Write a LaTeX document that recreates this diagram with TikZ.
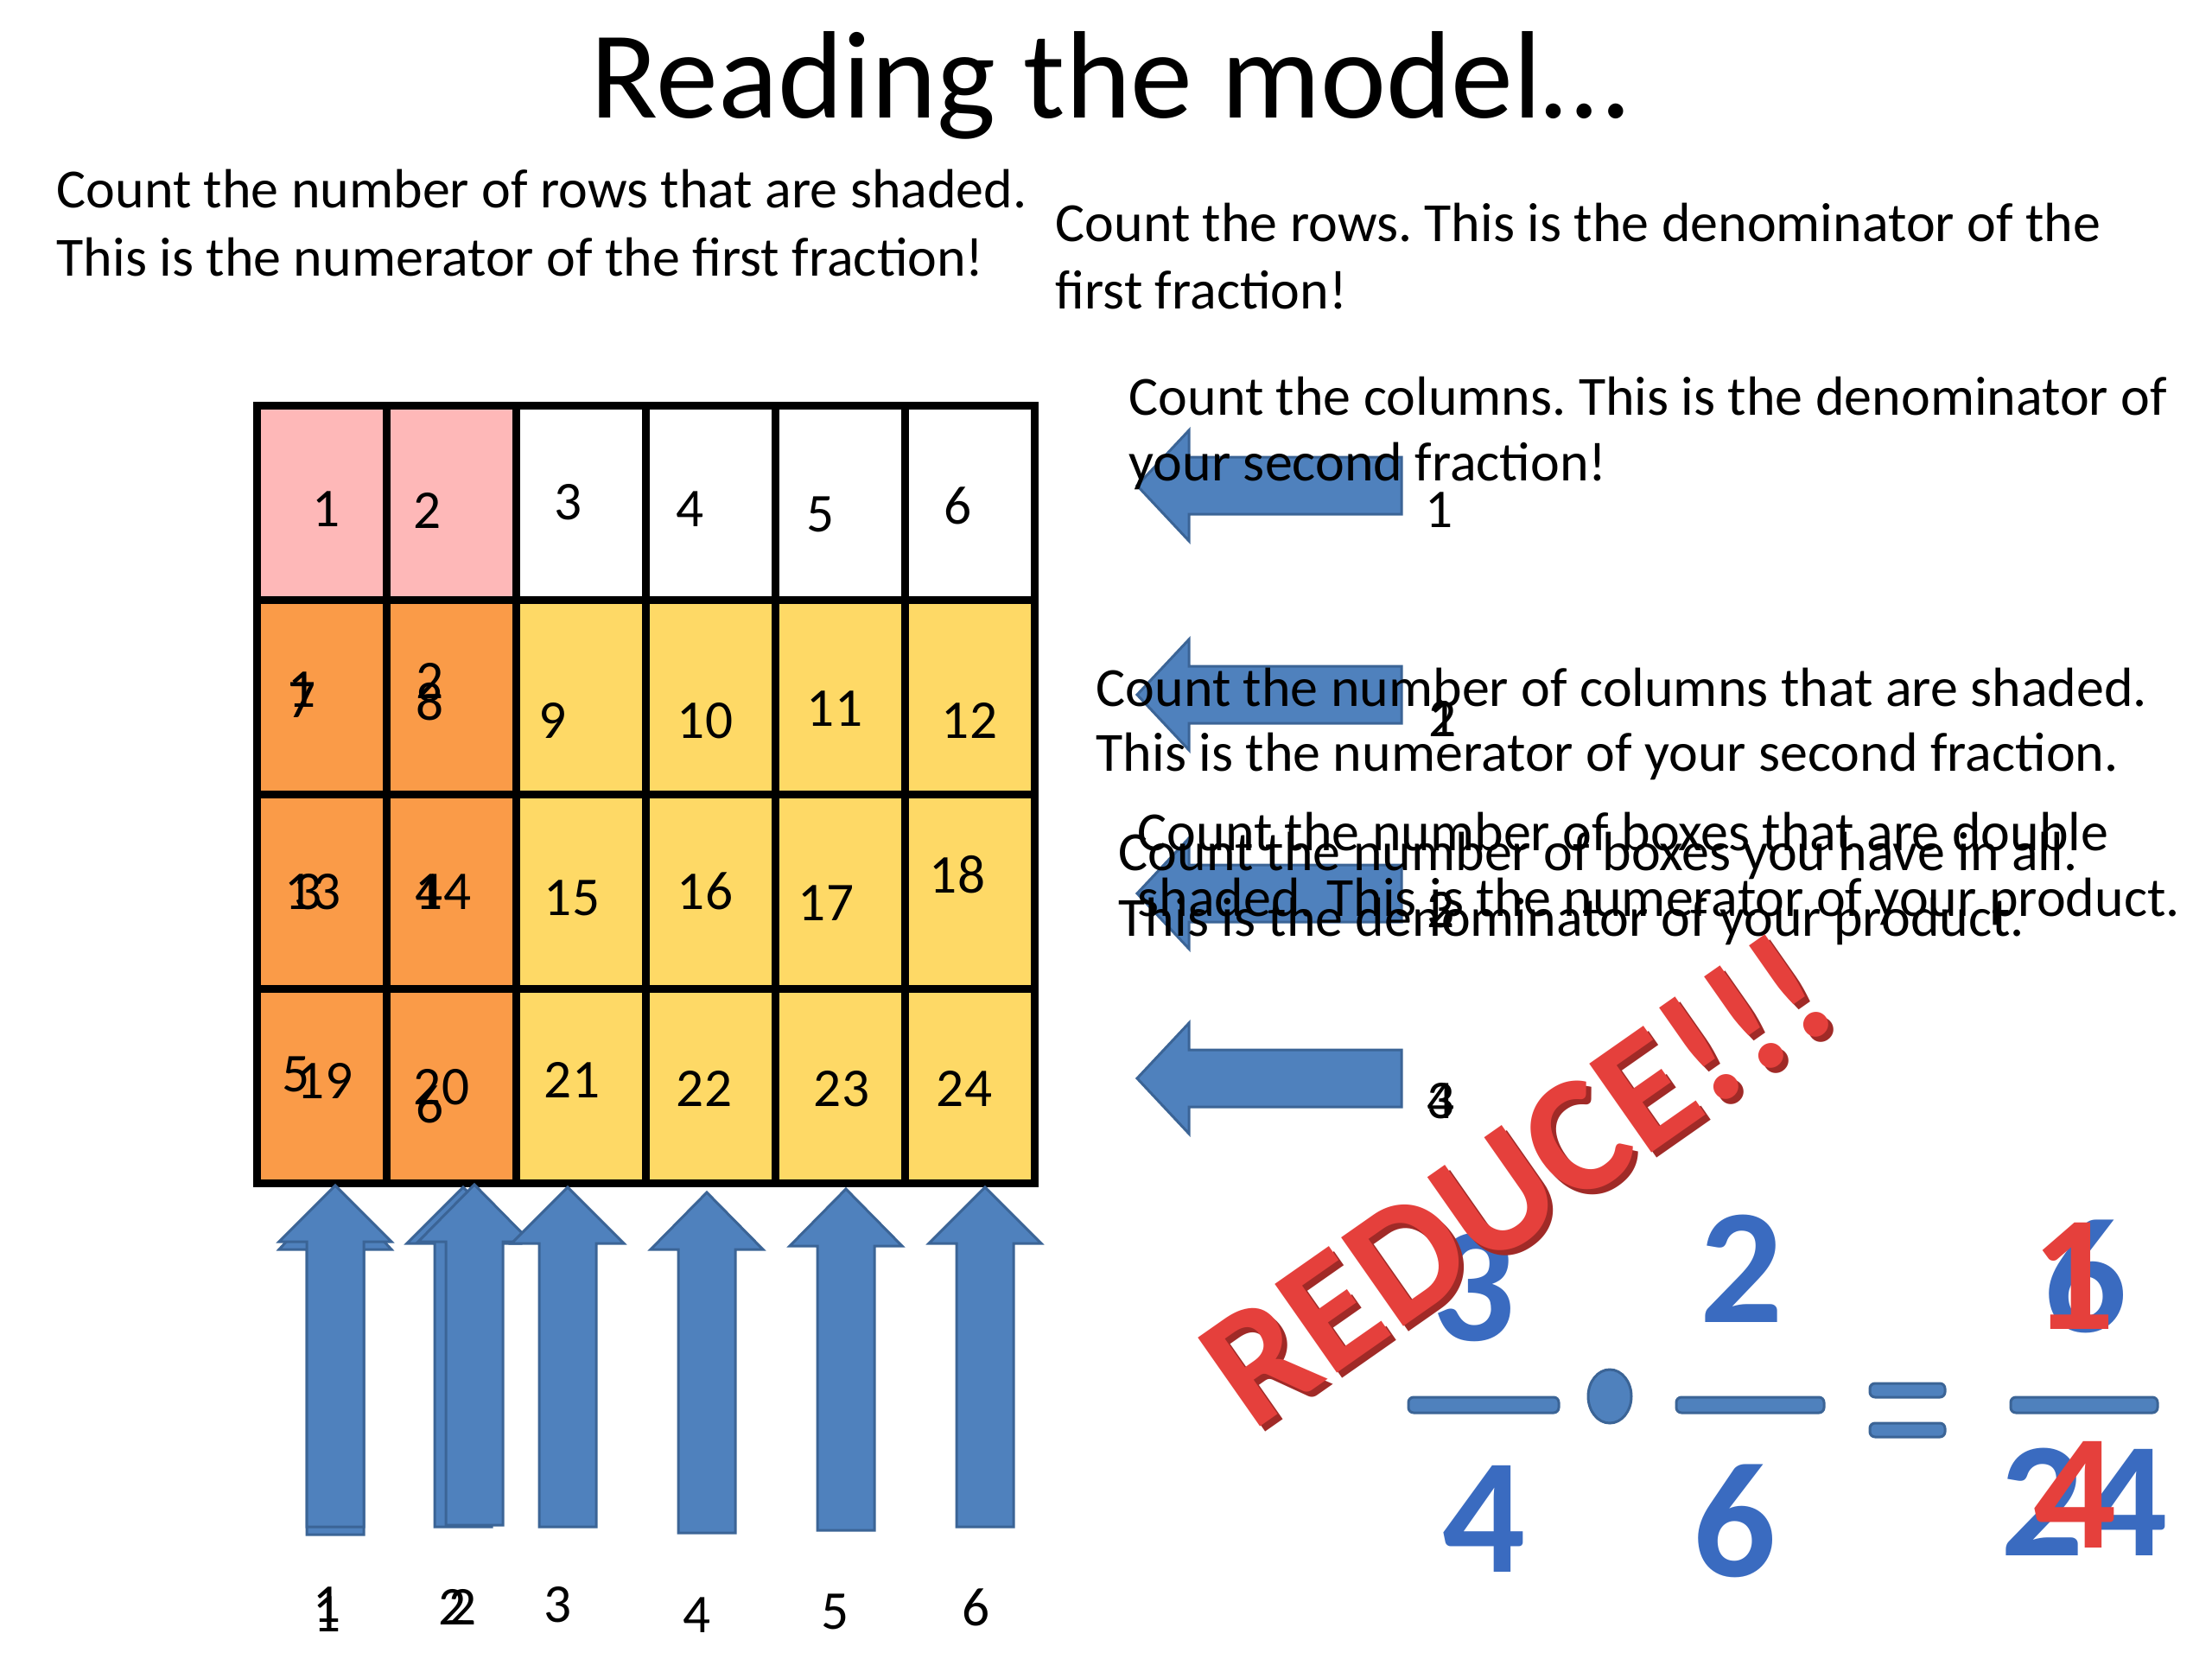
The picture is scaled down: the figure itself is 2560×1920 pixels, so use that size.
\documentclass[tikz,border=0pt]{standalone}
\usepackage{fontspec}
\setmainfont{Carlito}
\frenchspacing
\usetikzlibrary{arrows.meta,calc,positioning}
\definecolor{pinkcell}{HTML}{FEB8B8}
\definecolor{orangecell}{HTML}{FA9B48}
\definecolor{yellowcell}{HTML}{FED966}
\definecolor{arrowblue}{HTML}{4F81BD}
\definecolor{arrowedge}{HTML}{3B6496}
\definecolor{fracblue}{HTML}{3A6BC0}
\definecolor{reducered}{HTML}{E5403C}
\definecolor{reduceshade}{HTML}{A02A27}
\tikzset {
  every node/.style={inner sep=0pt},
  body/.style={anchor=base west, font=\fontsize{18.2}{21.6}\selectfont},
  cellnum/.style={font=\fontsize{18}{21.6}\selectfont},
  bluearrow/.style={fill=arrowblue, draw=arrowedge, line width=0.3mm, line join=miter},
  gridline/.style={line width=0.9mm, line cap=rect},
  fracbar/.style={fill=arrowblue, draw=arrowedge, line width=0.3mm, rounded corners=0.6mm},
  bignum/.style={font=\fontsize{54}{60}\selectfont\bfseries, text=fracblue},
  rednum/.style={font=\fontsize{54}{60}\selectfont\bfseries, text=reducered},
}

\begin{document}
\begin{tikzpicture}[x=0.1mm,y=-0.1mm]
  \useasboundingbox[fill=white] (0,0) rectangle (2560,1920);
  \node[anchor=base, font=\fontsize{41}{48}\selectfont] (title) at (1284,136) {Reading the model…};

  % the grid
  \fill[pinkcell] (297,469) rectangle (597,694);
  \fill[orangecell] (297,694) rectangle (597,1369);
  \fill[yellowcell] (597,694) rectangle (1197,1369);
  \foreach \x in {297,447,...,1197}
    \draw[gridline] (\x,469) -- (\x,1369);
  \foreach \y in {469,694,919,1144,1369}
    \draw[gridline] (297,\y) -- (1197,\y);

  \foreach \n/\x/\y in {1/378/589, 2/495/591, 3/658/581, 4/799/589, 5/950/595, 6/1109/585,
      7/350/810, 8/498/812, 9/640/834, 10/816/834, 11/966/820, 12/1122/834,
      13/362/1032, 14/513/1032, 15/662/1039, 16/816/1031, 17/956/1045, 18/1108/1012,
      19/376/1251, 20/511/1258, 21/662/1250, 22/815/1260, 23/974/1260, 24/1116/1260}
    \node[cellnum] (c\n) at (\x,\y) {\n};
  % second count, double shaded boxes
  \foreach \n/\x/\y in {1/350/798, 2/498/788, 3/357/1032, 4/497/1032, 5/343/1243, 6/498/1278}
    \node[cellnum] (d\n) at (\x,\y) {\n};

  % column arrows
  \foreach \cx/\tip/\base/\bot in {388/1376/1446/1776, 388/1372/1437/1767, 536/1374/1439/1767,
      549/1371/1437/1765, 657/1374/1439/1767, 818/1380/1446/1774, 979/1376/1442/1771, 1140/1374/1439/1767}
    \draw[bluearrow] (\cx,\tip) -- ({\cx+65},\base) -- ({\cx+33},\base) -- ({\cx+33},\bot)
      -- ({\cx-33},\bot) -- ({\cx-33},\base) -- ({\cx-65},\base) -- cycle;
  \foreach \n/\x/\y in {1/379/1857, 2/524/1860, 3/646/1857, 4/807/1869, 5/967/1865, 6/1130/1860}
    \node[cellnum] (b\n) at (\x,\y) {\n};
  \node[cellnum] (e1) at (379,1868) {1};
  \node[cellnum] (e2) at (536,1860) {2};

  % row arrows
  \foreach \cy in {562,804,1034,1248}
    \draw[bluearrow] (1316,\cy) -- (1376,{\cy-64}) -- (1376,{\cy-33}) -- (1622,{\cy-33})
      -- (1622,{\cy+33}) -- (1376,{\cy+33}) -- (1376,{\cy+64}) -- cycle;
  \node[cellnum] (r1) at (1666,590) {1};
  \node[cellnum] (r2) at (1670,832) {2};
  \node[cellnum] (s1) at (1670,832) {1};
  \node[cellnum] (r3) at (1668,1053) {3};
  \node[cellnum] (s2) at (1668,1053) {2};
  \node[cellnum] (r4) at (1668,1274) {4};
  \node[cellnum] (s3) at (1668,1274) {3};

  % the texts
  \node[body] (rowsa) at (65,240) {Count the number of rows that are shaded.};
  \node[body] (rowsb) at (65,319) {This is the numerator of the first fraction!};
  \node[body] (allrowsa) at (1221,279) {Count the rows. This is the denominator of the};
  \node[body] (allrowsb) at (1221,357) {first fraction!};
  \node[body] (colsa) at (1306,480) {Count the columns. This is the denominator of};
  \node[body] (colsb) at (1306,556) {your second fraction!};
  \node[body] (shcolsa) at (1268,817) {Count the number of columns that are shaded.};
  \node[body] (shcolsb) at (1268,892) {This is the numerator of your second fraction.};
  \node[body] (dblboxa) at (1316,984) {Count the number of boxes that are double};
  \node[body] (dblboxb) at (1316,1060) {shaded. This is the numerator of your product.};
  \node[body] (allboxa) at (1294,1007) {Count the number of boxes you have in all.};
  \node[body] (allboxb) at (1294,1083) {This is the denominator of your product.};

  % the fractions
  \fill[fracbar] (1630,1617) rectangle (1804,1635);
  \fill[fracbar] (1940,1617) rectangle (2111,1635);
  \fill[fracbar] (2327,1617) rectangle (2497,1635);
  \fill[fracbar] (2164,1601) rectangle (2251,1617);
  \fill[fracbar] (2164,1647) rectangle (2251,1663);
  \filldraw[fill=arrowblue, draw=arrowedge, line width=0.3mm] (1863,1616) ellipse [x radius=2.5mm, y radius=3.1mm];
  \node[bignum] (numa) at (1706,1490) {3};
  \node[bignum] (numb) at (2016,1468) {2};
  \node[bignum] (numc) at (2414,1477) {6};
  \node[bignum] (dena) at (1718,1758) {4};
  \node[bignum] (denb) at (2008,1760) {6};
  \node[bignum] (denc) at (2412,1738) {24};
  \node[rednum] (numred) at (2400,1477) {1};
  \node[rednum] (denred) at (2402,1730) {4};

  \node[rotate=35, anchor=base, font=\fontsize{55}{60}\selectfont\bfseries, text=reduceshade] (reduceback) at (1798,1424) {REDUCE!!!};
  \node[rotate=35, anchor=base, font=\fontsize{55}{60}\selectfont\bfseries, text=reducered] (reduce) at (1792,1418) {REDUCE!!!};
\end{tikzpicture}
\end{document}
